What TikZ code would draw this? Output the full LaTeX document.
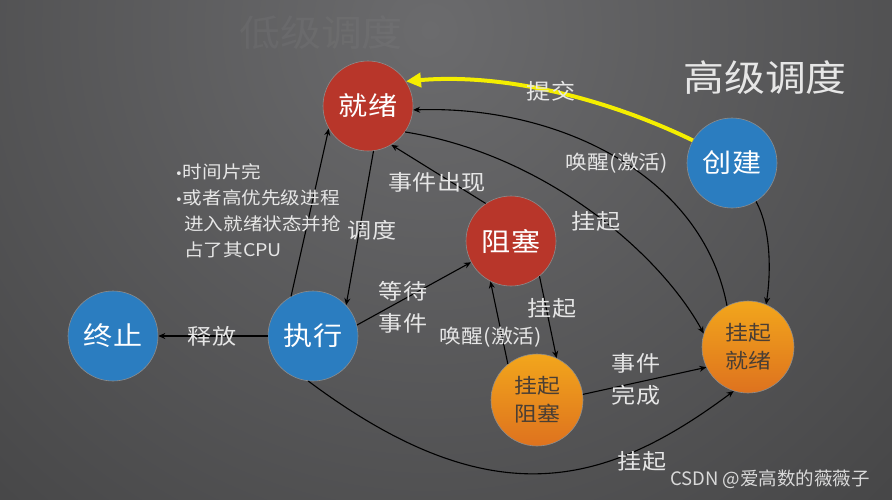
\documentclass[tikz,border=0pt]{standalone}
\usepackage{fontspec}
\setmainfont{Noto Sans CJK SC}[FakeStretch=1.12]
\newfontfamily\wmfont{Noto Sans CJK SC}
\newfontfamily\bulfont{DejaVu Sans}
\usetikzlibrary{arrows.meta}
\definecolor{bgtop}{HTML}{6B6B6D}
\definecolor{bgbot}{HTML}{232323}
\definecolor{nred}{HTML}{B8362A}
\definecolor{nblue}{HTML}{2B7DC0}
\definecolor{otop}{HTML}{F2A61C}
\definecolor{obot}{HTML}{DE721E}
\definecolor{otext}{HTML}{4A3E34}
\definecolor{labc}{HTML}{E6E6E6}
\definecolor{yel}{HTML}{F4EE00}
\newcommand{\mybul}{{\bulfont\fontsize{13}{26}\selectfont •}}
\begin{document}
\begin{tikzpicture}[x=1pt,y=-1pt]
\tikzset{
  st/.style={circle, minimum size=90pt, inner sep=0pt, draw=black!45, line width=0.6pt,
    font=\fontsize{26}{30}\selectfont, text=white},
  redst/.style={st, fill=nred},
  bluest/.style={st, fill=nblue},
  orst/.style={st, minimum size=92pt, top color=otop, bottom color=obot, text=otext,
    align=center, font=\fontsize{20.5}{28}\selectfont},
  arr/.style={-{Stealth[length=7pt,width=6pt]}, line width=1.1pt, black},
  yarr/.style={-{Triangle[length=15pt,width=14pt]}, line width=4pt, yel},
  lab/.style={font=\fontsize{21.5}{32}\selectfont, text=labc, align=center, inner sep=0pt},
  slab/.style={font=\fontsize{19.5}{24}\selectfont, text=labc, inner sep=0pt},
  bul/.style={font=\fontsize{17.5}{26}\selectfont, text=labc, inner sep=0pt, anchor=base west},
}
\useasboundingbox (0,0) rectangle (892,499);
\fill[bgbot] (0,0) rectangle (892,499);
\begin{scope}
  \clip (0,0) rectangle (892,499);
  \shade[inner color=bgtop, outer color=bgbot] (430,30) circle[radius=1300pt];
\end{scope}

% titles
\node[font=\fontsize{36.5}{40}\selectfont, text=white, text opacity=0.04] (low) at (321,33) {低级调度};
\node[font=\fontsize{36.5}{40}\selectfont, text=labc] (high) at (765,78) {高级调度};

% nodes
\node[redst] (jx) at (368,106) {就绪};
\node[redst] (zs) at (511,241) {阻塞};
\node[bluest] (cj) at (732,163) {创建};
\node[bluest] (zx) at (313,336) {执行};
\node[bluest] (zz) at (113,336) {终止};
\node[orst] (gz) at (537,400) {挂起\\阻塞};
\node[orst] (gj) at (748,347) {挂起\\就绪};

% connectors
\draw[yarr] (cj.150) .. controls +(-93,-45) and +(92,-8) .. (jx.33);
\draw[arr] (gj.117) .. controls +(-25,-132) and +(143,-5) .. (jx.355);
\draw[arr] (jx.-35) .. controls +(138,22) and +(-45,-82) .. (gj.163);
\draw[arr] (cj.-58) .. controls +(15,27) and +(5,-32) .. (gj.67);
\draw[arr] (zx.264) .. controls +(182,136) and +(-130,97) .. (gj.252);
\draw[arr] (zs.124) -- (jx.301);
\draw[arr] (jx.277) -- (zx.43);
\draw[arr] (zx.119) -- (jx.210);
\draw[arr] (zx.14) -- (zs.208);
\draw[arr] (zx.west) -- (zz.east);
\draw[arr] (zs.309) -- (gz.65);
\draw[arr] (gz.129) -- (zs.243);
\draw[arr] (gz.7) -- (gj.206);

% labels
\node[lab] (ltj) at (551,91) {提交};
\node[slab] (lhx1) at (617,163) {唤醒(激活)};
\node[lab] (lgq1) at (596,221) {挂起};
\node[lab] (lsj) at (437,182) {事件出现};
\node[lab] (lds) at (372,230) {调度};
\node[lab] (ldd) at (403,307) {等待\\事件};
\node[lab] (lsf) at (212,336) {释放};
\node[slab] (lhx2) at (491,337) {唤醒(激活)};
\node[lab] (lgq2) at (552,308) {挂起};
\node[lab] (lwc) at (636,379) {事件\\完成};
\node[lab] (lgq3) at (642,461) {挂起};

% note
\node[bul] (n1) at (175,178) {\mybul 时间片完};
\node[bul] (n2) at (175,204) {\mybul 或者高优先级进程};
\node[bul] (n3) at (184,230) {进入就绪状态并抢};
\node[bul] (n4) at (184,256) {占了其CPU};

% watermark
\node[font=\wmfont\fontsize{18.5}{20}\selectfont, text=white!85!black, inner sep=0pt] (wm) at (770,479) {CSDN @爱高数的薇薇子};
\end{tikzpicture}
\end{document}
